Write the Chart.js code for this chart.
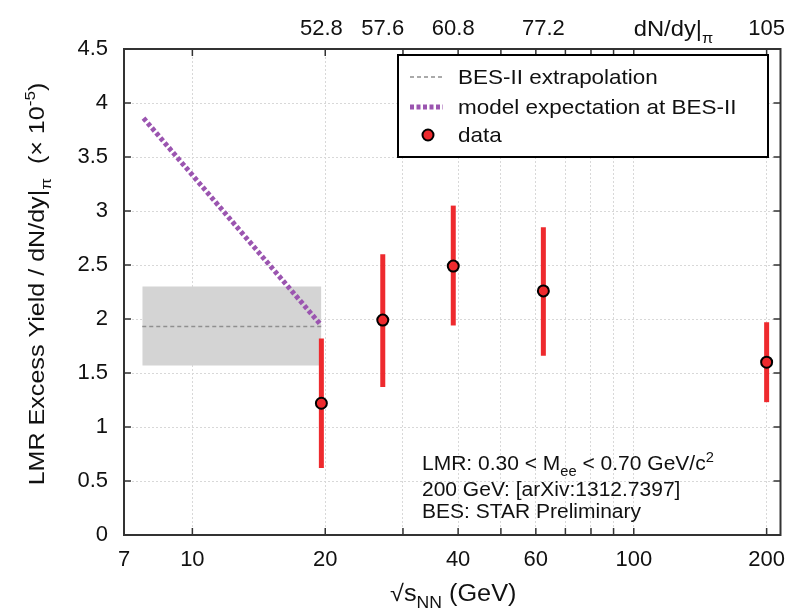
<!DOCTYPE html>
<html>
<head>
<meta charset="utf-8">
<script src="https://cdn.jsdelivr.net/npm/chart.js@4.4.1/dist/chart.umd.min.js"></script>
<style>
    html, body { margin: 0; padding: 0; background: #fff; }
    canvas { display: block; }
</style>
</head>
<body>
<canvas id="lmrChart" width="788" height="609"></canvas>
<script>
"use strict";

// #region Data
const energies = [19.6, 27, 39, 62.4, 200];
const yields = [1.22, 1.99, 2.49, 2.26, 1.60];
const yieldLow = [0.62, 1.37, 1.94, 1.66, 1.23];
const yieldHigh = [1.82, 2.60, 3.05, 2.85, 1.97];

const bandEnergies = [7.7, 19.6];
const bandUpper = [2.30, 2.30];
const bandLower = [1.57, 1.57];
const extrapolation = [1.93, 1.93];

const modelEnergies = [7.75, 19.6];
const modelValues = [3.86, 1.94];

const xTickValues = [7, 10, 20, 30, 40, 50, 60, 70, 80, 90, 100, 200];
const xTickLabels = ["7", "10", "20", "", "40", "", "60", "", "", "", "100", "200"];
const topTickValues = [19.6, 27, 39, 62.4, 123, 200];
const topTickLabels = ["52.8", "57.6", "60.8", "77.2", "dN/dy|π", "105"];
// #endregion

const FONT = "'Liberation Sans', Arial, Helvetica, sans-serif";
const RED = "#ee2a2e";
const PURPLE = "#9b55b0";
const GREY_DASH = "#8f8f8f";

const toPoints = (xs, ys) => xs.map((x, i) => ({ x: x, y: ys[i] }));

// draws text made of parts: [text, "" | "sub" | "sup"], sx = horizontal stretch
function drawRich(ctx, parts, x, y, size, align, sx = 1) {
    const fontFor = (k) => `${k ? Math.round(size * 0.7) : size}px ${FONT}`;
    const widths = parts.map(([t, k]) => {
        ctx.font = fontFor(k);
        return ctx.measureText(t).width;
    });
    const total = widths.reduce((a, b) => a + b, 0);
    let cx = 0;
    if (align === "center") cx = -total / 2;
    if (align === "right") cx = -total;
    ctx.save();
    ctx.translate(x, y);
    ctx.scale(sx, 1);
    ctx.textAlign = "left";
    ctx.textBaseline = "alphabetic";
    parts.forEach(([t, k], i) => {
        ctx.font = fontFor(k);
        let dy = 0;
        if (k === "sub") dy = size * 0.3;
        if (k === "sup") dy = -size * 0.42;
        ctx.fillText(t, cx, dy);
        cx += widths[i];
    });
    ctx.restore();
}

// #region Plugins
const errorBars = {
    id: "errorBars",
    beforeDatasetDraw(chart, args) {
        if (args.index !== 0) return;
        const { ctx, scales } = chart;
        ctx.save();
        ctx.strokeStyle = RED;
        ctx.lineWidth = 5;
        energies.forEach((e, i) => {
            const px = scales.x.getPixelForValue(e);
            ctx.beginPath();
            ctx.moveTo(px, scales.y.getPixelForValue(yieldLow[i]));
            ctx.lineTo(px, scales.y.getPixelForValue(yieldHigh[i]));
            ctx.stroke();
        });
        ctx.restore();
    },
};

const frameAndText = {
    id: "frameAndText",
    afterDraw(chart) {
        const { ctx, chartArea: a, scales } = chart;
        ctx.save();

        // frame
        ctx.strokeStyle = "#333";
        ctx.lineWidth = 2;
        ctx.strokeRect(a.left, a.top, a.right - a.left, a.bottom - a.top);

        // inward ticks on all four sides
        ctx.lineWidth = 1.5;
        ctx.beginPath();
        xTickValues.slice(1).forEach((v) => {
            const px = scales.x.getPixelForValue(v);
            ctx.moveTo(px, a.bottom);
            ctx.lineTo(px, a.bottom - 7);
            ctx.moveTo(px, a.top);
            ctx.lineTo(px, a.top + 7);
        });
        scales.y.ticks.forEach((t) => {
            const py = scales.y.getPixelForValue(t.value);
            ctx.moveTo(a.left, py);
            ctx.lineTo(a.left + 7, py);
            ctx.moveTo(a.right, py);
            ctx.lineTo(a.right - 7, py);
        });
        ctx.stroke();

        ctx.fillStyle = "#111";

        // top axis label with subscript
        const dnX = scales.xTop.getPixelForValue(topTickValues[4]);
        drawRich(ctx, [["dN/dy|", ""], ["π", "sub"]], dnX, 36, 22, "center", 1.08);

        // axis titles
        drawRich(ctx, [["√s", ""], ["NN", "sub"], [" (GeV)", ""]], (a.left + a.right) / 2 + 1, 601, 23, "center", 1.1);
        ctx.save();
        ctx.translate(44, 284);
        ctx.rotate(-Math.PI / 2);
        drawRich(ctx, [["LMR Excess Yield / dN/dy|", ""], ["π", "sub"], ["  (× 10", ""], ["-5", "sup"], [")", ""]], 0, 0, 22, "center", 1.14);
        ctx.restore();

        // legend
        const lx = 398, ly = 55, lw = 370, lh = 102;
        ctx.fillStyle = "#fff";
        ctx.fillRect(lx, ly, lw, lh);
        ctx.strokeStyle = "#000";
        ctx.lineWidth = 2;
        ctx.strokeRect(lx, ly, lw, lh);
        const rows = [ly + 22, ly + 52, ly + 80];
        ctx.lineCap = "butt";
        ctx.strokeStyle = GREY_DASH;
        ctx.lineWidth = 1.5;
        ctx.setLineDash([4, 3]);
        ctx.beginPath();
        ctx.moveTo(lx + 12, rows[0]);
        ctx.lineTo(lx + 45, rows[0]);
        ctx.stroke();
        ctx.strokeStyle = PURPLE;
        ctx.lineWidth = 5;
        ctx.setLineDash([4, 2.5]);
        ctx.beginPath();
        ctx.moveTo(lx + 12, rows[1]);
        ctx.lineTo(lx + 45, rows[1]);
        ctx.stroke();
        ctx.setLineDash([]);
        ctx.fillStyle = RED;
        ctx.strokeStyle = "#000";
        ctx.lineWidth = 2;
        ctx.beginPath();
        ctx.arc(lx + 30, rows[2], 5.5, 0, Math.PI * 2);
        ctx.fill();
        ctx.stroke();
        ctx.fillStyle = "#111";
        const legendText = ["BES-II extrapolation", "model expectation at BES-II", "data"];
        legendText.forEach((t, i) => drawRich(ctx, [[t, ""]], lx + 60, rows[i] + 7, 21, "left", 1.07));

        // annotation
        const tx = 422;
        drawRich(ctx, [["LMR: 0.30 < M", ""], ["ee", "sub"], [" < 0.70 GeV/c", ""], ["2", "sup"]], tx, 470, 20, "left", 1.05);
        drawRich(ctx, [["200 GeV: [arXiv:1312.7397]", ""]], tx, 496, 20, "left", 1.05);
        drawRich(ctx, [["BES: STAR Preliminary", ""]], tx, 518, 20, "left", 1.05);

        ctx.restore();
    },
};
// #endregion

// #region Chart
const tickFont = { family: FONT, size: 22 };
const gridStyle = { color: "#d8d8d8", lineWidth: 1, drawTicks: false };
const noPad = (s) => {
    s.paddingLeft = 0;
    s.paddingRight = 0;
    s.paddingTop = 0;
    s.paddingBottom = 0;
};

const config = {
    type: "scatter",
    data: {
        datasets: [
            {
                label: "data",
                data: toPoints(energies, yields),
                pointRadius: 5.5,
                pointBackgroundColor: RED,
                pointBorderColor: "#000",
                pointBorderWidth: 2,
            },
            {
                label: "model expectation at BES-II",
                data: toPoints(modelEnergies, modelValues),
                showLine: true,
                pointRadius: 0,
                borderColor: PURPLE,
                borderWidth: 5,
                borderDash: [4, 2.5],
                borderCapStyle: "butt",
            },
            {
                label: "BES-II extrapolation",
                data: toPoints(bandEnergies, extrapolation),
                showLine: true,
                pointRadius: 0,
                borderColor: GREY_DASH,
                borderWidth: 1.5,
                borderDash: [4, 3],
            },
            {
                label: "band upper",
                data: toPoints(bandEnergies, bandUpper),
                showLine: true,
                pointRadius: 0,
                borderWidth: 0,
                borderColor: "rgba(0,0,0,0)",
                backgroundColor: "#d4d4d4",
                fill: "+1",
            },
            {
                label: "band lower",
                data: toPoints(bandEnergies, bandLower),
                showLine: true,
                pointRadius: 0,
                borderWidth: 0,
                borderColor: "rgba(0,0,0,0)",
            },
        ],
    },
    options: {
        responsive: false,
        animation: false,
        layout: { padding: { right: 7, left: 0, top: 0, bottom: 0 } },
        plugins: {
            legend: { display: false },
            tooltip: { enabled: false },
        },
        scales: {
            x: {
                type: "logarithmic",
                position: "bottom",
                min: 7,
                max: 215,
                afterBuildTicks: (s) => { s.ticks = xTickValues.map((v) => ({ value: v })); },
                afterFit: (s) => { s.height = 74; noPad(s); },
                ticks: {
                    autoSkip: false,
                    maxRotation: 0,
                    padding: 12,
                    color: "#111",
                    font: tickFont,
                    callback: (v, i) => xTickLabels[i],
                },
                grid: gridStyle,
                border: { display: false, dash: [2, 2] },
            },
            xTop: {
                type: "logarithmic",
                position: "top",
                min: 7,
                max: 215,
                afterBuildTicks: (s) => { s.ticks = topTickValues.map((v) => ({ value: v })); },
                afterFit: (s) => { s.height = 49; noPad(s); },
                ticks: {
                    autoSkip: false,
                    maxRotation: 0,
                    padding: 7,
                    color: "#111",
                    font: tickFont,
                    callback: (v, i) => (i === 4 ? "" : topTickLabels[i]),
                },
                grid: { display: false, drawTicks: false },
                border: { display: false },
            },
            y: {
                min: 0,
                max: 4.5,
                afterFit: (s) => { s.width = 124; noPad(s); },
                ticks: {
                    stepSize: 0.5,
                    padding: 16,
                    color: "#111",
                    font: tickFont,
                    callback: (v) => String(v),
                },
                grid: gridStyle,
                border: { display: false, dash: [2, 2] },
            },
        },
    },
    plugins: [errorBars, frameAndText],
};

const lmrChart = new Chart(document.getElementById("lmrChart"), config);
// #endregion
</script>
</body>
</html>
